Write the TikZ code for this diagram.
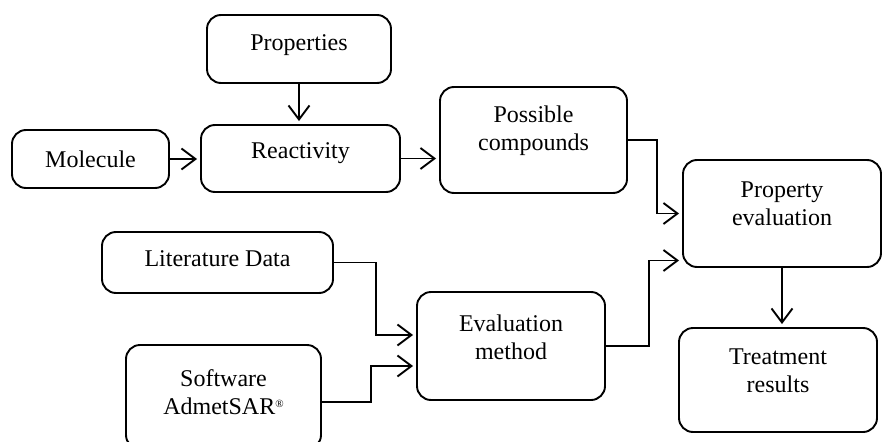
\documentclass[tikz,border=0pt]{standalone}
\usepackage{fontspec}
\setmainfont{Liberation Serif}
\usetikzlibrary{arrows.meta,positioning,calc}
\newcommand\boxfont{\fontsize{24}{28}\selectfont}
\newcommand\regmark{{\fontsize{11}{11}\selectfont\raisebox{7pt}{\textregistered}}}

\begin{document}
\begin{tikzpicture}[
  x=1pt,y=-1pt,
  box/.style={draw,rounded corners=14pt,line width=1.9pt,inner sep=0pt},
  txt/.style={align=center,font=\boxfont,inner sep=0pt},
  arr/.style={-{Straight Barb[length=14pt,width=21pt]},line width=1.9pt,shorten >=3pt},
]
  \useasboundingbox (0,0) rectangle (882,441);

  % Upper row
  \node[box,minimum width=184pt,minimum height=68pt,
        label={[txt,yshift=4pt]center:Properties}] (props) at (299,49) {};
  \node[box,minimum width=157pt,minimum height=58pt,
        label={[txt]center:Molecule}] (molecule) at (90.5,159) {};
  \node[box,minimum width=199pt,minimum height=67pt,
        label={[txt,yshift=5pt]center:Reactivity}] (react) at (300.5,158.5) {};
  \node[box,minimum width=187pt,minimum height=106pt,
        label={[txt,yshift=9pt]center:Possible\\compounds}] (possible) at (533.5,140) {};

  % Right column
  \node[box,minimum width=198pt,minimum height=107pt,
        label={[txt,yshift=10pt]center:Property\\evaluation}] (propeval) at (782,213.5) {};
  \node[box,minimum width=198pt,minimum height=104pt,
        label={[txt,yshift=9pt]center:Treatment\\results}] (treat) at (778,380) {};

  % Lower row
  \node[box,minimum width=231pt,minimum height=61pt,
        label={[txt,yshift=4pt]center:Literature Data}] (litdata) at (217.5,262.5) {};
  \node[box,minimum width=195pt,minimum height=104pt,
        label={[txt,yshift=5pt]center:Software\\AdmetSAR\regmark}] (software) at (223.5,397) {};
  \node[box,minimum width=188pt,minimum height=108pt,
        label={[txt,yshift=9pt]center:Evaluation\\method}] (evalmeth) at (511,346) {};

  % Connectors
  \draw[arr] (props.south) -- (props.south |- react.north);
  \draw[arr] (molecule.east) -- (molecule.east -| react.west);
  \draw[arr] (react.east) -- (react.east -| possible.west);
  \draw[arr] (possible.east) -- ++(29,0) |- (propeval.west);
  \draw[arr] (litdata.east) -- ++(42,0) |- ([yshift=11pt]evalmeth.west);
  \draw[arr] ([yshift=-5pt]software.east) -- ++(49,0) |- ([yshift=-20pt]evalmeth.west);
  \draw[arr] (evalmeth.east) -- ++(43,0) |- ([yshift=-47pt]propeval.west);
  \draw[arr] (propeval.south) -- (propeval.south |- treat.north);
\end{tikzpicture}
\end{document}
